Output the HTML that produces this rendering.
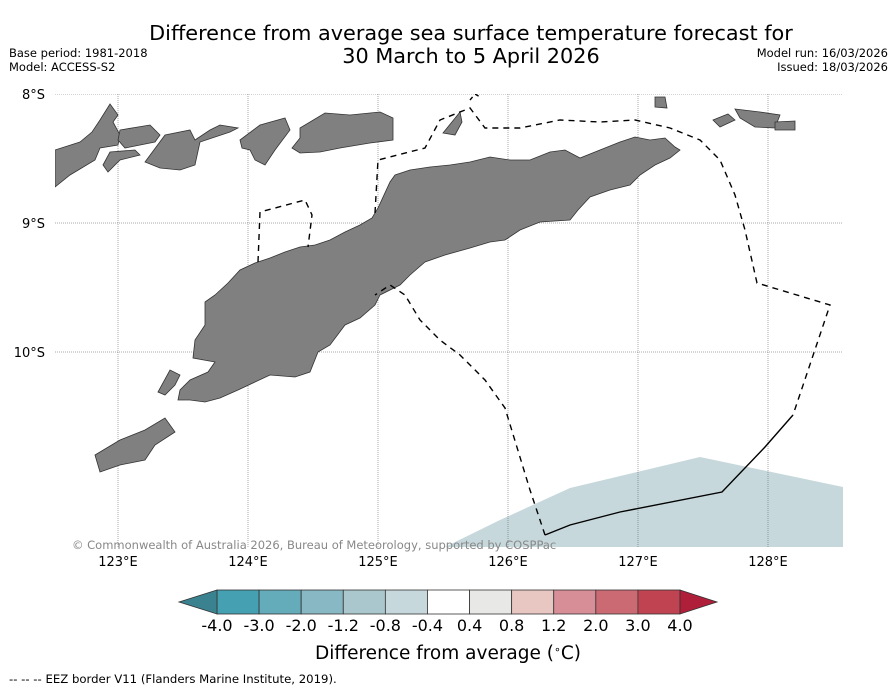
<!DOCTYPE html>
<html><head><meta charset="utf-8"><style>
body{margin:0;background:#fff;font-family:"DejaVu Sans","Liberation Sans",sans-serif;}
svg{display:block}
</style></head><body>
<svg width="896" height="690" viewBox="0 0 896 690">
<text x="471" y="40" font-size="20.8" text-anchor="middle">Difference from average sea surface temperature forecast for</text>
<text x="471" y="63" font-size="20.8" text-anchor="middle">30 March to 5 April 2026</text>
<text x="9" y="57" font-size="11.5">Base period: 1981-2018</text>
<text x="9" y="71" font-size="11.5">Model: ACCESS-S2</text>
<text x="888" y="57" font-size="11.5" text-anchor="end">Model run: 16/03/2026</text>
<text x="888" y="71" font-size="11.5" text-anchor="end">Issued: 18/03/2026</text>
<defs><clipPath id="mc"><rect x="55" y="94" width="788" height="453"/></clipPath></defs>
<g clip-path="url(#mc)">
<polygon fill="#c6d8dc" points="445,547 500,520 570,488 700,457 843,487 843,547"/>
<g id="grid"></g>
<g fill="#808080" stroke="#333" stroke-width="0.8">
<polygon points="193,358 195,340 205,325 205,302 215,295 228,283 240,270 255,263 270,258 285,252 300,247 315,245 330,240 345,232 360,225 372,218 378,208 390,182 395,175 410,170 430,167 450,165 470,162 490,157 510,160 530,160 550,152 565,150 580,158 600,150 620,142 635,137 650,140 665,138 675,147 680,150 670,158 655,165 640,175 630,185 610,190 590,197 578,210 570,220 540,222 520,230 505,240 490,242 470,248 445,255 425,262 410,275 400,285 380,295 375,305 360,318 345,325 330,345 318,352 310,372 295,377 270,375 255,382 238,390 220,398 205,402 190,400 178,400 180,390 190,380 208,372 215,362"/>
<polygon points="300,128 325,113 350,115 380,112 393,118 393,140 370,143 340,148 320,152 300,153 292,148 300,138"/>
<polygon points="55,150 80,142 92,132 100,120 110,104 118,115 113,122 120,135 118,145 100,148 95,160 70,175 55,187"/>
<polygon points="120,130 150,125 160,135 155,142 125,148 118,140"/>
<polygon points="145,162 165,135 190,130 195,140 210,130 220,125 238,128 230,132 200,142 195,165 180,170 160,168"/>
<polygon points="240,140 260,125 285,118 290,130 275,150 265,165 255,160 250,150 242,148"/>
<polygon points="103,165 110,152 135,150 140,155 120,160 108,172"/>
<polygon points="655,97 665,97 667,108 655,107"/>
<polygon points="735,109 760,112 780,115 775,128 755,127 740,118"/>
<polygon points="775,122 795,121 795,130 775,130"/>
<polygon points="713,120 728,114 735,120 720,127"/>
<polygon points="443,133 460,112 462,122 455,135"/>
<polygon points="158,392 170,370 180,375 175,385 165,395"/>
<polygon points="95,455 120,440 145,430 165,418 175,432 155,445 145,460 120,465 100,472"/>
</g>
<g fill="none" stroke="#000" stroke-width="1.4">
<polyline stroke-dasharray="6,5" points="258,262 260,212 305,200 312,215 308,247"/>
<polyline stroke-dasharray="6,5" points="375,213 378,160 425,148 440,120 470,108 485,128 520,128 560,120 600,122 635,120 670,128 700,140 720,160 735,195 745,230 757,283 830,305 793,415"/>
<polyline points="793,415 765,447 722,492 620,512 570,525 545,535"/>
<polyline stroke-dasharray="6,5" points="545,535 530,490 505,408 485,380 460,355 440,340 420,320 405,295 390,285 375,295"/>
<polyline stroke-dasharray="4,4" points="470,100 475,94 480,97"/>
</g>
</g>
<text x="72" y="549" font-size="11.5" fill="#888">© Commonwealth of Australia 2026, Bureau of Meteorology, supported by COSPPac</text>
<g id="ticks" font-size="13"></g>
<g id="cbar"></g>
<text x="448" y="659" font-size="18.5" text-anchor="middle">Difference from average (<tspan baseline-shift="super" font-size="11">∘</tspan>C)</text>
<text x="9" y="683" font-size="11.7">--  --  -- EEZ border V11 (Flanders Marine Institute, 2019).</text>
</svg>
<script>
const NS='http://www.w3.org/2000/svg';
const lons=[123,124,125,126,127,128];
const lats=[8,9,10];
const levelLabels=['-4.0','-3.0','-2.0','-1.2','-0.8','-0.4','0.4','0.8','1.2','2.0','3.0','4.0'];
const levelColors=['#45a0b2','#65acbb','#88b8c3','#a9c7cc','#c6d8dc','#ffffff','#e8e8e6','#e8c6c2','#d88e96','#cc6a74','#c04352'];
const lowColor='#3a8290', highColor='#b01f3a';
const x=l=>118+(l-123)*130, y=l=>94+(l-8)*129;
const grid=document.getElementById('grid'), ticks=document.getElementById('ticks');
function mk(t,a,p){const e=document.createElementNS(NS,t);for(const k in a)e.setAttribute(k,a[k]);p.appendChild(e);return e;}
lons.forEach(l=>{const g=mk('line',{x1:x(l),x2:x(l),y1:94,y2:547,stroke:'#555','stroke-width':0.5,'stroke-dasharray':'1,1'},grid);


const t=mk('text',{x:x(l),y:566,'text-anchor':'middle'},ticks);t.textContent=l+'°E';

});
lats.forEach(l=>{const g=mk('line',{x1:55,x2:843,y1:y(l),y2:y(l),stroke:'#555','stroke-width':0.5,'stroke-dasharray':'1,1'},grid);


const t=mk('text',{x:45,y:y(l)+5,'text-anchor':'end'},ticks);t.textContent=l+'°S';

});
const cb=document.getElementById('cbar');const x0=217,x1=680,w=(x1-x0)/levelColors.length,cy=590,ch=24;
levelColors.forEach((c,i)=>{const r=mk('rect',{x:x0+i*w,y:cy,width:w,height:ch,fill:c,stroke:'#333','stroke-width':0.8},cb);

});
const lt=mk('polygon',{points:`${x0},${cy} 179,${cy+ch/2} ${x0},${cy+ch}`,fill:lowColor,stroke:'#333','stroke-width':0.8},cb);


const rt=mk('polygon',{points:`${x1},${cy} 717,${cy+ch/2} ${x1},${cy+ch}`,fill:highColor,stroke:'#333','stroke-width':0.8},cb);


levelLabels.forEach((s,i)=>{const t=mk('text',{x:x0+i*w,y:631,'text-anchor':'middle','font-size':16},cb);t.textContent=s;

});
</script>
</body></html>
